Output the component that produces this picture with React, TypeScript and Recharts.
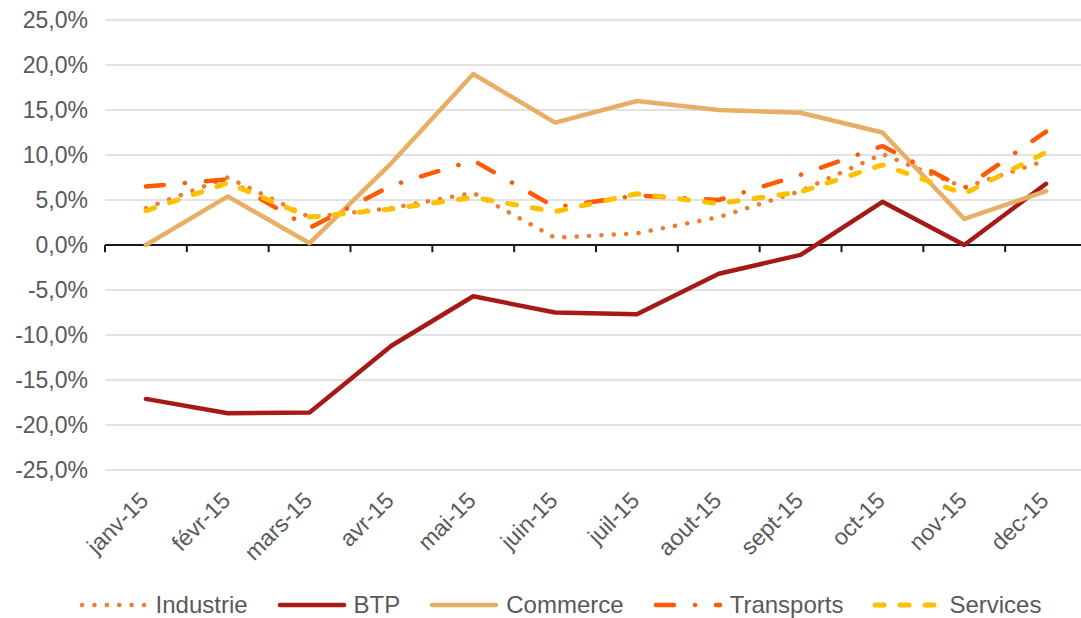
import { LineChart, Line, XAxis, YAxis, CartesianGrid, ReferenceLine } from 'recharts'

const MONTHS = ['janv-15', 'févr-15', 'mars-15', 'avr-15', 'mai-15', 'juin-15', 'juil-15', 'aout-15', 'sept-15', 'oct-15', 'nov-15', 'dec-15']

const INDUSTRIE = [4.1, 7.5, 3.1, 4.1, 5.8, 0.8, 1.3, 3.1, 6.0, 10.1, 6.4, 9.4]
const BTP = [-17.1, -18.7, -18.6, -11.2, -5.7, -7.5, -7.7, -3.2, -1.1, 4.8, 0.0, 6.8]
const COMMERCE = [0.0, 5.4, 0.2, 9.1, 19.0, 13.6, 16.0, 15.0, 14.7, 12.5, 2.9, 6.0]
const TRANSPORTS = [6.5, 7.3, 1.9, 6.6, 9.4, 4.2, 5.5, 5.0, 7.8, 11.0, 6.3, 12.6]
const SERVICES = [3.8, 6.9, 3.1, 4.0, 5.3, 3.7, 5.7, 4.6, 5.9, 8.9, 5.7, 10.3]

const Y_TICKS = [-25, -20, -15, -10, -5, 0, 5, 10, 15, 20, 25]

const FONT = '"Liberation Sans", Arial, sans-serif'
const TEXT = '#595959'

const SERIES = [
  { key: 'industrie', name: 'Industrie', values: INDUSTRIE, color: '#ED7D31', width: 4.5, dash: '0.1 12.3' },
  { key: 'btp', name: 'BTP', values: BTP, color: '#A51A17', width: 4.5, dash: undefined },
  { key: 'commerce', name: 'Commerce', values: COMMERCE, color: '#E8AE66', width: 4.5, dash: undefined },
  { key: 'transports', name: 'Transports', values: TRANSPORTS, color: '#FF5A05', width: 4.5, dash: '18 21 0.1 21' },
  { key: 'services', name: 'Services', values: SERVICES, color: '#FFC000', width: 5, dash: '9 16' },
]

const data = MONTHS.map((label, i) => {
  const row: Record<string, number | string> = { idx: i, label }
  SERIES.forEach(s => { row[s.key] = s.values[i] })
  return row
})

// category boundaries, used for the small ticks on the zero line
const BOUNDARIES = MONTHS.map((_, i) => i - 0.5).concat(MONTHS.length - 0.5)

const fmtPct = (v: number) => `${v.toFixed(1).replace('.', ',')}%`

function MonthTick(props: any) {
  const { x, y, payload } = props
  const ax = x + 4
  const ay = y + 30
  return (
    <text
      x={ax}
      y={ay}
      transform={`rotate(-45, ${ax}, ${ay})`}
      textAnchor="end"
      fill={TEXT}
      fontSize={23}
      fontFamily={FONT}
    >
      {MONTHS[payload.value]}
    </text>
  )
}

function LegendIcon({ color, width, dash }: { color: string; width: number; dash?: string }) {
  return (
    <svg width={72} height={14} style={{ display: 'block' }}>
      <line
        x1={4}
        x2={68}
        y1={7}
        y2={7}
        stroke={color}
        strokeWidth={width}
        strokeDasharray={dash}
        strokeLinecap="round"
      />
    </svg>
  )
}

export default function App() {
  return (
    <div
      style={{
        position: 'absolute',
        left: 0,
        top: 0,
        width: 1081,
        height: 618,
        overflow: 'hidden',
        background: '#fff',
        fontFamily: FONT,
      }}
    >
      <LineChart width={1095} height={618} data={data} margin={{ top: 20, right: 8, bottom: 0, left: 0 }}>
        <CartesianGrid vertical={false} stroke="#D9D9D9" strokeWidth={1.5} />
        <XAxis
          dataKey="idx"
          type="number"
          domain={[-0.5, MONTHS.length - 0.5]}
          ticks={MONTHS.map((_, i) => i)}
          interval={0}
          axisLine={false}
          tickLine={false}
          tickSize={0}
          height={148}
          tick={<MonthTick />}
        />
        <YAxis
          domain={[-25, 25]}
          ticks={Y_TICKS}
          axisLine={false}
          tickLine={false}
          tickSize={0}
          tickMargin={17}
          width={105}
          tick={{ fill: TEXT, fontSize: 23, fontFamily: FONT }}
          tickFormatter={fmtPct}
        />
        <ReferenceLine y={0} stroke="#1A1A1A" strokeWidth={2} />
        {BOUNDARIES.map(b => (
          <ReferenceLine
            key={b}
            segment={[{ x: b, y: 0 }, { x: b, y: -0.8 }]}
            stroke="#1A1A1A"
            strokeWidth={2}
          />
        ))}
        {SERIES.map(s => (
          <Line
            key={s.key}
            dataKey={s.key}
            name={s.name}
            type="linear"
            stroke={s.color}
            strokeWidth={s.width}
            strokeDasharray={s.dash}
            strokeLinecap="round"
            strokeLinejoin="round"
            dot={false}
            activeDot={false}
            isAnimationActive={false}
          />
        ))}
      </LineChart>

      {/* legend */}
      <div
        style={{
          position: 'absolute',
          top: 591,
          left: 0,
          width: 1081,
          boxSizing: 'border-box',
          paddingLeft: 38,
          display: 'flex',
          justifyContent: 'center',
          alignItems: 'center',
          gap: 28,
          fontSize: 24,
          color: TEXT,
          lineHeight: '28px',
        }}
      >
        {SERIES.map(s => (
          <div key={s.key} style={{ display: 'flex', alignItems: 'center', gap: 6 }}>
            <LegendIcon color={s.color} width={s.width} dash={s.dash} />
            <span>{s.name}</span>
          </div>
        ))}
      </div>
    </div>
  )
}
